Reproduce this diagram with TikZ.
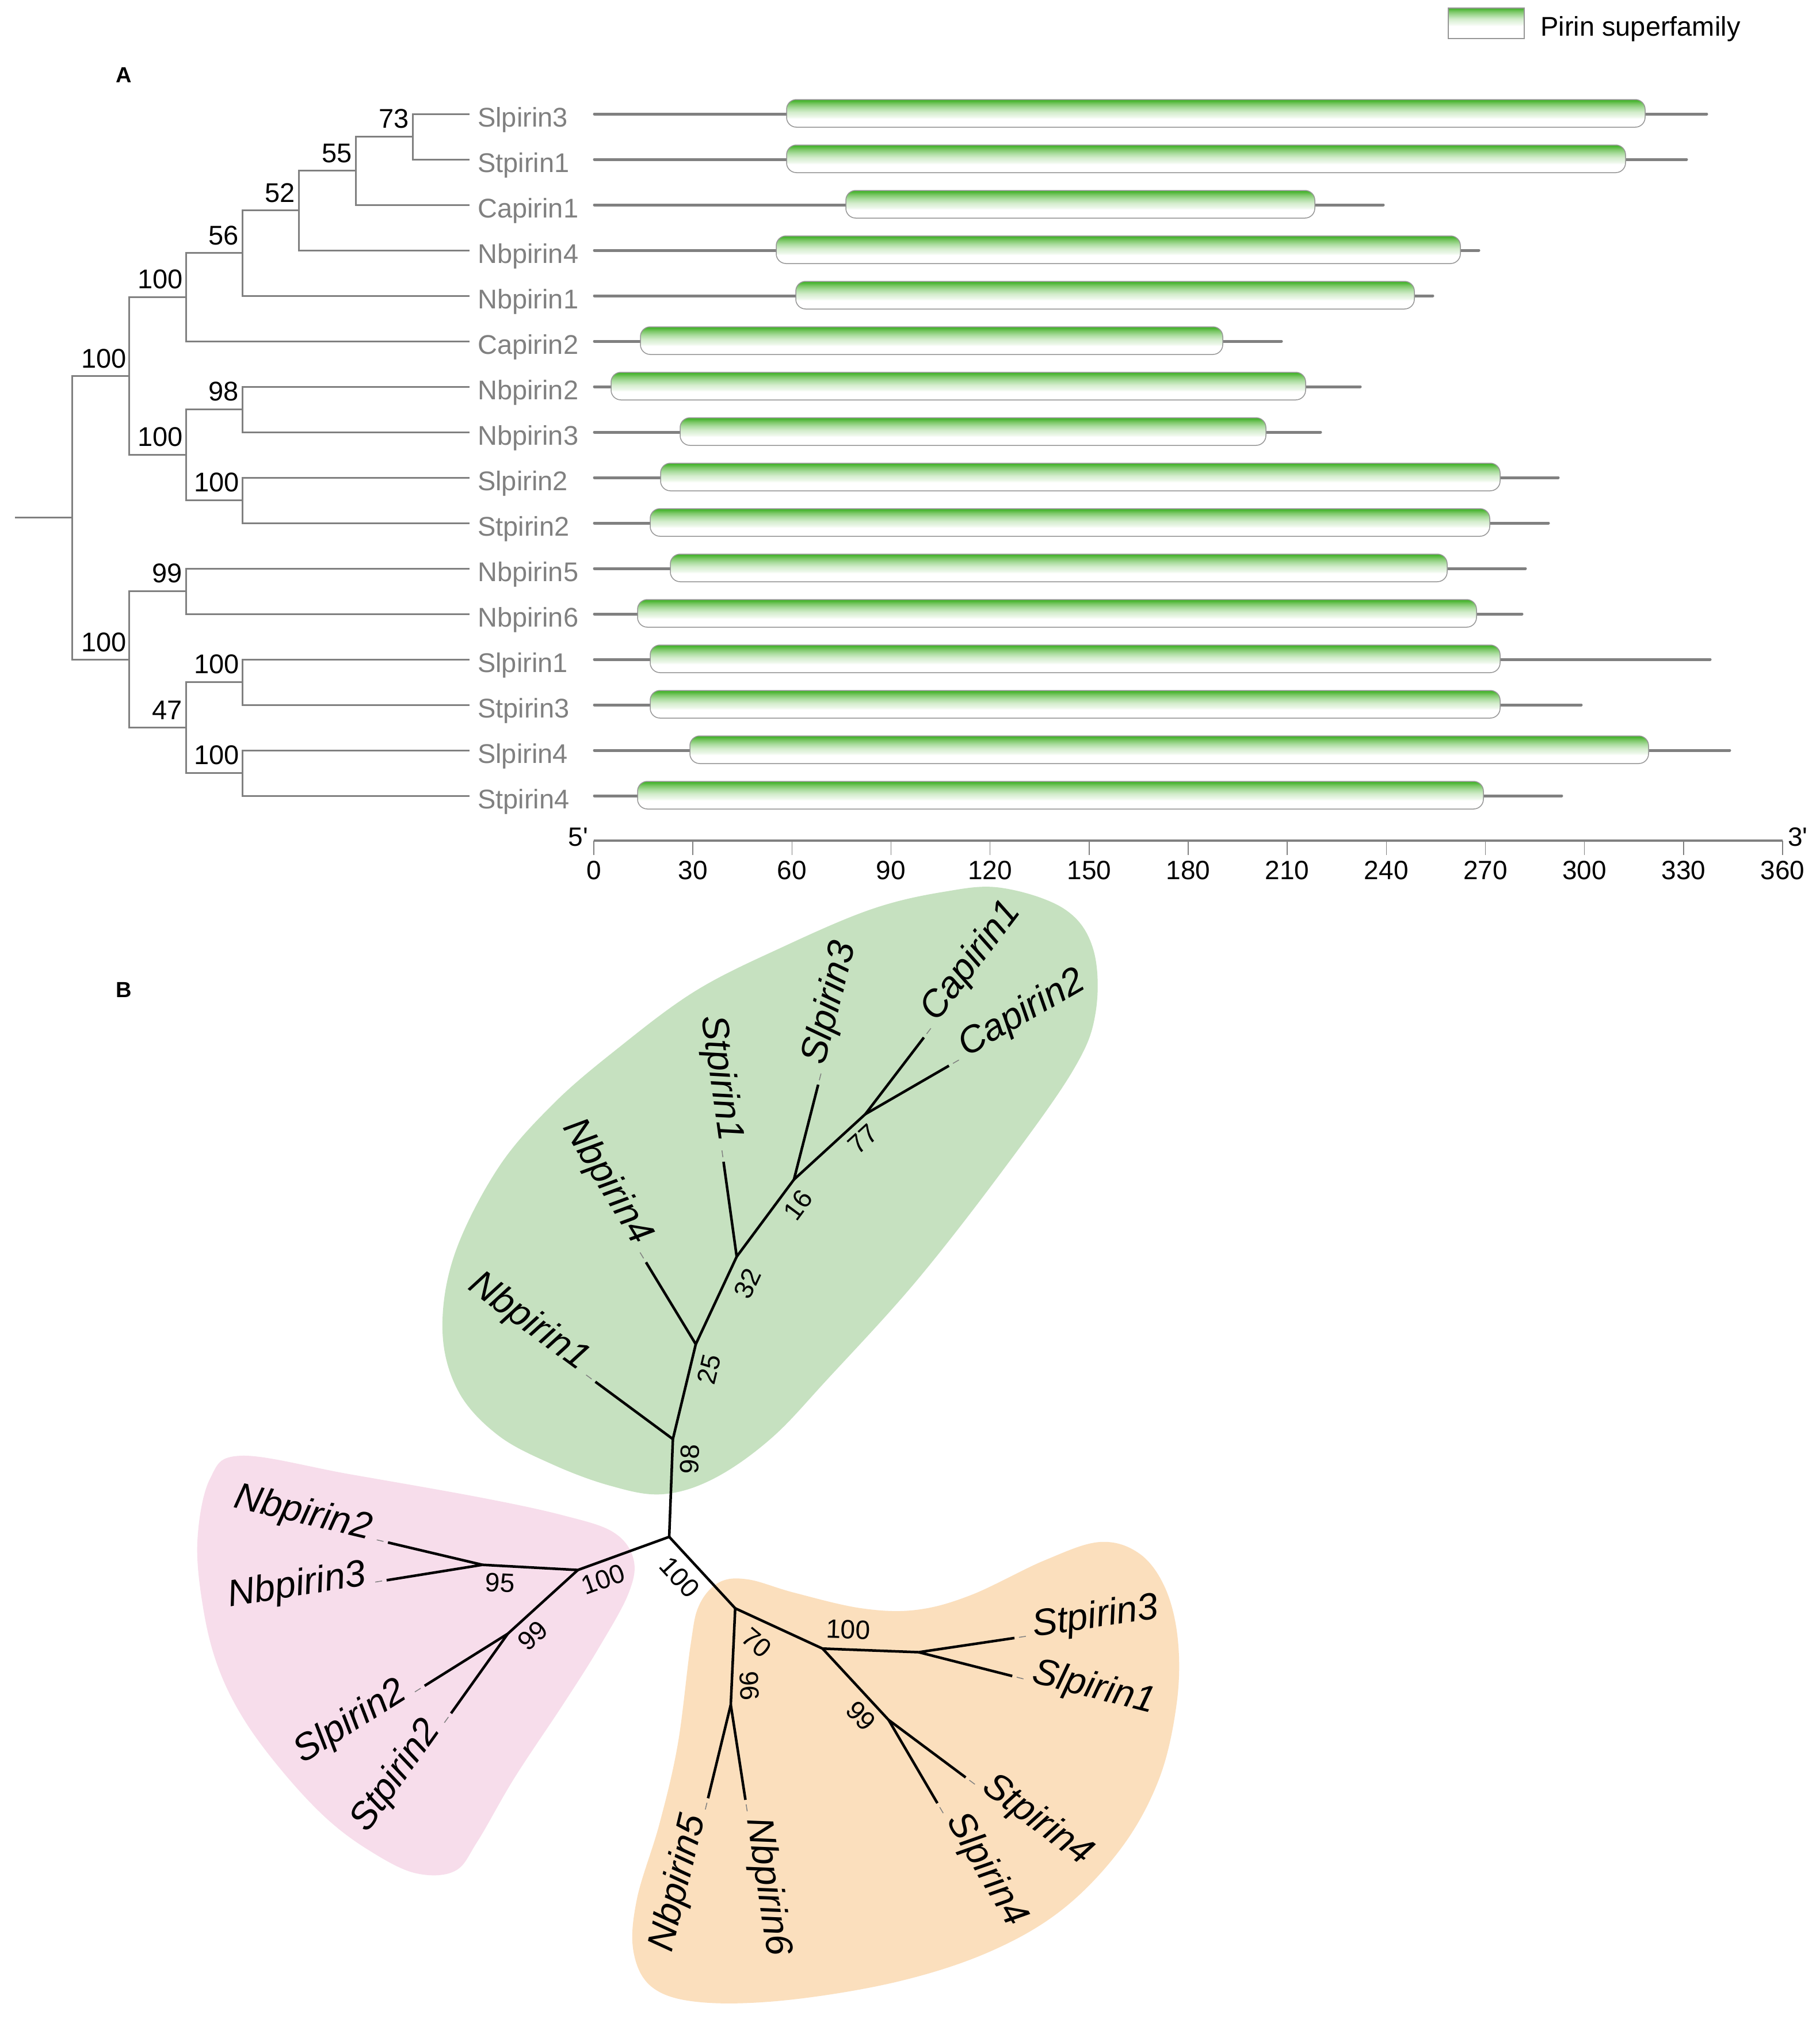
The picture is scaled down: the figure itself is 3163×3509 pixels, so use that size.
\documentclass[tikz,border=0pt]{standalone}
\usepackage{fontspec}
\setmainfont{Liberation Sans}
\usetikzlibrary{calc}
\definecolor{treegray}{RGB}{128,128,128}
\definecolor{bargray}{RGB}{150,150,150}
\definecolor{pirinA}{RGB}{72,180,48}
\definecolor{pirinB}{RGB}{125,200,105}
\definecolor{pirinC}{RGB}{170,220,158}
\definecolor{pirinD}{RGB}{212,237,205}
\definecolor{pirinE}{RGB}{236,247,233}
\definecolor{hullgreen}{RGB}{198,225,192}
\definecolor{hullpink}{RGB}{247,221,235}
\definecolor{hullorange}{RGB}{251,223,189}
\pgfdeclareverticalshading{pirinshade}{100bp}{color(0bp)=(white); color(40bp)=(white); color(44bp)=(pirinE); color(52bp)=(pirinD); color(60bp)=(pirinC); color(67bp)=(pirinB); color(73bp)=(pirinA); color(100bp)=(pirinA)}
\pgfdeclareverticalshading{legshade}{100bp}{color(0bp)=(white); color(45bp)=(white); color(50bp)=(pirinE); color(57bp)=(pirinD); color(63bp)=(pirinC); color(69bp)=(pirinB); color(74bp)=(pirinA); color(100bp)=(pirinA)}
% protein row: #1 y, #2 bar start, #3 bar end, #4 line end, #5 name
\newcommand\protrow[5]{%
  \coordinate (#5-0) at (1033,#1);
  \coordinate (#5-1) at (#4,#1);
  \draw[protline] (#5-0) -- (#5-1);
  \path[domainbar] (#2,{#1-25}) rectangle (#3,{#1+23});}
% leaf of the unrooted tree, right side: #1 parent, #2 tip, #3 text
\newcommand\leafR[3]{%
  \path let \p1=($(#2)-(#1)$), \n1={atan2(\y1,\x1)} in
    ($(#2)+(\n1:8pt)$) coordinate (#2-a)
    ($(#2)+(\n1:20pt)$) coordinate (#2-b)
    ($(#2)+(\n1:34pt)$) node[leafB, rotate=\n1, anchor=mid west] (#2-t) {#3};
  \draw[tipdash] (#2-a) -- (#2-b);}
% leaf, left side (text turned to stay readable)
\newcommand\leafL[3]{%
  \path let \p1=($(#2)-(#1)$), \n1={atan2(\y1,\x1)}, \n2={\n1+180} in
    ($(#2)+(\n1:8pt)$) coordinate (#2-a)
    ($(#2)+(\n1:20pt)$) coordinate (#2-b)
    ($(#2)+(\n1:34pt)$) node[leafB, rotate=\n2, anchor=mid east] (#2-t) {#3};
  \draw[tipdash] (#2-a) -- (#2-b);}
\begin{document}
\begin{tikzpicture}[x=1pt,y=-1pt,
  treeA/.style={draw=treegray, line width=3pt},
  bootA/.style={font=\fontsize{47}{56}\selectfont, inner sep=0pt, anchor=south east},
  leafA/.style={font=\fontsize{47}{56}\selectfont, text=treegray, inner sep=0pt, anchor=base west},
  protline/.style={draw=treegray, line width=5pt, line cap=round},
  domainbar/.style={draw=bargray, line width=1.5pt, rounded corners=17pt, shading=pirinshade},
  axisline/.style={draw=treegray, line width=4pt},
  axtick/.style={draw=treegray, line width=1.5pt},
  axisnum/.style={font=\fontsize{46}{52}\selectfont, inner sep=0pt},
  panel/.style={font=\bfseries\fontsize{38}{44}\selectfont, inner sep=0pt, anchor=base west},
  treeB/.style={draw=black, line width=4.5pt},
  tipdash/.style={draw=treegray, line width=1.5pt},
  leafB/.style={font=\itshape\fontsize{65}{72}\selectfont, inner sep=0pt},
  bootB/.style={font=\fontsize{46}{52}\selectfont, inner sep=0pt}
]
\useasboundingbox (0,0) rectangle (3163,3509);
\fill[white] (0,0) rectangle (3163,3509);

% ---------------- legend ----------------
\path[draw=bargray, line width=2pt, shading=legshade] (2517,14) rectangle (2649,67);
\node[font=\fontsize{47}{56}\selectfont, inner sep=0pt, anchor=base west] (legtext) at (2677,62) {Pirin superfamily};

% ---------------- panel letters ----------------
\node[panel] (labA) at (201,143) {A};
\node[panel] (labB) at (201,1733) {B};

% ---------------- panel A: tree ----------------
\foreach \i/\yy in {0/198,1/277,2/356,3/435,4/514,5/593,6/672,7/751,8/830,9/909,10/988,11/1067,12/1146,13/1225,14/1304,15/1383}
  \coordinate (t\i) at (816,\yy);
\coordinate (n73) at (717,237.5);
\coordinate (n55) at (618,296.75);
\coordinate (n52) at (519,365.9);
\coordinate (n56) at (421,439.9);
\coordinate (na100) at (323,516.5);
\coordinate (n98) at (421,711.5);
\coordinate (nc100) at (421,869.5);
\coordinate (nb100) at (323,790.5);
\coordinate (ntop) at (224,653.5);
\coordinate (n99) at (323,1027.5);
\coordinate (nd100) at (421,1185.5);
\coordinate (ne100) at (421,1343.5);
\coordinate (n47) at (323,1264.5);
\coordinate (nbot) at (224,1146);
\coordinate (rootA) at (125,899.75);
\coordinate (stubA) at (26,899.75);

\draw[treeA] (n73) |- (t0);  \draw[treeA] (n73) |- (t1);
\draw[treeA] (n55) |- (n73); \draw[treeA] (n55) |- (t2);
\draw[treeA] (n52) |- (n55); \draw[treeA] (n52) |- (t3);
\draw[treeA] (n56) |- (n52); \draw[treeA] (n56) |- (t4);
\draw[treeA] (na100) |- (n56); \draw[treeA] (na100) |- (t5);
\draw[treeA] (n98) |- (t6); \draw[treeA] (n98) |- (t7);
\draw[treeA] (nc100) |- (t8); \draw[treeA] (nc100) |- (t9);
\draw[treeA] (nb100) |- (n98); \draw[treeA] (nb100) |- (nc100);
\draw[treeA] (ntop) |- (na100); \draw[treeA] (ntop) |- (nb100);
\draw[treeA] (n99) |- (t10); \draw[treeA] (n99) |- (t11);
\draw[treeA] (nd100) |- (t12); \draw[treeA] (nd100) |- (t13);
\draw[treeA] (ne100) |- (t14); \draw[treeA] (ne100) |- (t15);
\draw[treeA] (n47) |- (nd100); \draw[treeA] (n47) |- (ne100);
\draw[treeA] (nbot) |- (n99); \draw[treeA] (nbot) |- (n47);
\draw[treeA] (rootA) |- (ntop); \draw[treeA] (rootA) |- (nbot);
\draw[treeA] (stubA) -- (rootA);

\node[bootA] (b73) at ($(n73)+(-6,-14)$) {73};
\node[bootA] (b55) at ($(n55)+(-6,-14)$) {55};
\node[bootA] (b52) at ($(n52)+(-6,-14)$) {52};
\node[bootA] (b56) at ($(n56)+(-6,-14)$) {56};
\node[bootA] (ba100) at ($(na100)+(-5,-14)$) {100};
\node[bootA] (b98) at ($(n98)+(-6,-14)$) {98};
\node[bootA] (bb100) at ($(nb100)+(-5,-14)$) {100};
\node[bootA] (bc100) at ($(nc100)+(-5,-14)$) {100};
\node[bootA] (btop) at ($(ntop)+(-4,-13)$) {100};
\node[bootA] (b99) at ($(n99)+(-6,-14)$) {99};
\node[bootA] (bd100) at ($(nd100)+(-5,-14)$) {100};
\node[bootA] (be100) at ($(ne100)+(-5,-14)$) {100};
\node[bootA] (b47) at ($(n47)+(-6,-14)$) {47};
\node[bootA] (bbot) at ($(nbot)+(-4,-13)$) {100};

\foreach \i/\yy/\nm in {0/198/Slpirin3,1/277/Stpirin1,2/356/Capirin1,3/435/Nbpirin4,4/514/Nbpirin1,5/593/Capirin2,6/672/Nbpirin2,7/751/Nbpirin3,8/830/Slpirin2,9/909/Stpirin2,10/988/Nbpirin5,11/1067/Nbpirin6,12/1146/Slpirin1,13/1225/Stpirin3,14/1304/Slpirin4,15/1383/Stpirin4}
  \node[leafA] (la\i) at (830,\yy+22) {\nm};

% ---------------- panel A: domains ----------------
\protrow{198}{1367}{2859}{2966}{pr0}
\protrow{277}{1367}{2825}{2931}{pr1}
\protrow{356}{1470}{2285}{2404}{pr2}
\protrow{435}{1349}{2538}{2570}{pr3}
\protrow{514}{1383}{2458}{2490}{pr4}
\protrow{593}{1113}{2125}{2227}{pr5}
\protrow{672}{1062}{2269}{2364}{pr6}
\protrow{751}{1182}{2200}{2295}{pr7}
\protrow{830}{1148}{2607}{2708}{pr8}
\protrow{909}{1130}{2589}{2691}{pr9}
\protrow{988}{1165}{2515}{2651}{pr10}
\protrow{1067}{1108}{2566}{2645}{pr11}
\protrow{1146}{1130}{2607}{2972}{pr12}
\protrow{1225}{1130}{2607}{2748}{pr13}
\protrow{1304}{1199}{2865}{3006}{pr14}
\protrow{1383}{1108}{2578}{2714}{pr15}

% axis
\coordinate (axL) at (1032,1461);
\coordinate (axR) at (3098,1461);
\draw[axisline] (axL) -- (axR);
\foreach \v in {0,30,...,360} {
  \draw[axtick] ({1032+\v*5.7389},1461) -- ({1032+\v*5.7389},1486);
  \node[axisnum, anchor=north] (ax\v) at ({1032+\v*5.7389},1496) {\v};
}
\node[axisnum, anchor=base east] (five) at (1022,1470) {5\textquotesingle};
\node[axisnum, anchor=base west] (three) at (3107,1470) {3\textquotesingle};

% ---------------- panel B: hulls ----------------
\fill[hullgreen] plot[smooth cycle, tension=0.6] coordinates {
 (1740,1543) (1850,1580) (1900,1650) (1904,1760) (1865,1860) (1745,2031) (1592,2227)
 (1439,2396) (1340,2500) (1240,2570) (1150,2597) (1060,2582) (960,2545) (865,2494)
 (796,2417) (769,2312) (790,2180) (865,2031) (960,1920) (1070,1825) (1209,1722)
 (1362,1645) (1515,1580) (1640,1550)};
\fill[hullpink] plot[smooth cycle, tension=0.6] coordinates {
 (420,2530) (607,2562) (837,2603) (980,2634) (1066,2663) (1101,2710) (1092,2770)
 (1040,2865) (980,2960) (894,3090) (830,3200) (790,3252) (720,3255) (640,3215)
 (567,3160) (492,3080) (425,2990) (380,2900) (354,2800) (343,2680) (365,2570)};
\fill[hullorange] plot[smooth cycle, tension=0.6] coordinates {
 (1250,2750) (1300,2745) (1380,2768) (1496,2795) (1592,2798) (1688,2772) (1815,2712)
 (1911,2680) (1980,2700) (2025,2760) (2047,2850) (2045,2960) (2015,3090) (1950,3210)
 (1847,3318) (1720,3392) (1560,3444) (1369,3476) (1220,3480) (1135,3455) (1101,3392)
 (1107,3300) (1146,3170) (1178,3031) (1200,2860) (1215,2790)};

% ---------------- panel B: tree ----------------
\coordinate (rootB) at (1163,2671);
\coordinate (N98) at (1169.4,2501.1);
\coordinate (Nb1) at (1034.7,2401.5);
\coordinate (N25) at (1209.2,2336.2);
\coordinate (Nb4) at (1122.7,2193.8);
\coordinate (N32) at (1280.3,2184);
\coordinate (St1) at (1257.4,2019.1);
\coordinate (N16) at (1379.8,2050);
\coordinate (Sl3) at (1421.9,1885.1);
\coordinate (N77) at (1503.8,1936.4);
\coordinate (Ca1) at (1605.6,1803.1);
\coordinate (Ca2) at (1649.2,1852.2);
\coordinate (Np100) at (1004.3,2728.6);
\coordinate (N95) at (838.4,2719.6);
\coordinate (Nb2) at (674.2,2680.8);
\coordinate (Nb3) at (671.9,2746.4);
\coordinate (N99p) at (882.6,2839.3);
\coordinate (Sl2) at (737.9,2929.9);
\coordinate (St2) at (783.9,2977.7);
\coordinate (N70) at (1277.7,2795.2);
\coordinate (N96) at (1270,2962.8);
\coordinate (Nb5) at (1230.5,3125.3);
\coordinate (Nb6) at (1295.5,3128.1);
\coordinate (No100) at (1429.5,2865.2);
\coordinate (Nsub) at (1596.6,2871.5);
\coordinate (St3) at (1763,2846.8);
\coordinate (Sl1) at (1759.2,2912.9);
\coordinate (N99o) at (1544.3,2989.2);
\coordinate (St4) at (1678.2,3089.1);
\coordinate (Sl4) at (1629.1,3133.9);

\draw[treeB] (rootB) -- (N98);
\draw[treeB] (N98) -- (Nb1);
\draw[treeB] (N98) -- (N25);
\draw[treeB] (N25) -- (Nb4);
\draw[treeB] (N25) -- (N32);
\draw[treeB] (N32) -- (St1);
\draw[treeB] (N32) -- (N16);
\draw[treeB] (N16) -- (Sl3);
\draw[treeB] (N16) -- (N77);
\draw[treeB] (N77) -- (Ca1);
\draw[treeB] (N77) -- (Ca2);
\draw[treeB] (rootB) -- (Np100);
\draw[treeB] (Np100) -- (N95);
\draw[treeB] (N95) -- (Nb2);
\draw[treeB] (N95) -- (Nb3);
\draw[treeB] (Np100) -- (N99p);
\draw[treeB] (N99p) -- (Sl2);
\draw[treeB] (N99p) -- (St2);
\draw[treeB] (rootB) -- (N70);
\draw[treeB] (N70) -- (N96);
\draw[treeB] (N96) -- (Nb5);
\draw[treeB] (N96) -- (Nb6);
\draw[treeB] (N70) -- (No100);
\draw[treeB] (No100) -- (Nsub);
\draw[treeB] (Nsub) -- (St3);
\draw[treeB] (Nsub) -- (Sl1);
\draw[treeB] (No100) -- (N99o);
\draw[treeB] (N99o) -- (St4);
\draw[treeB] (N99o) -- (Sl4);

\leafL{N98}{Nb1}{Nbpirin1}
\leafL{N25}{Nb4}{Nbpirin4}
\leafL{N32}{St1}{Stpirin1}
\leafR{N16}{Sl3}{Slpirin3}
\leafR{N77}{Ca1}{Capirin1}
\leafR{N77}{Ca2}{Capirin2}
\leafL{N95}{Nb2}{Nbpirin2}
\leafL{N95}{Nb3}{Nbpirin3}
\leafL{N99p}{Sl2}{Slpirin2}
\leafL{N99p}{St2}{Stpirin2}
\leafL{N96}{Nb5}{Nbpirin5}
\leafR{N96}{Nb6}{Nbpirin6}
\leafR{Nsub}{St3}{Stpirin3}
\leafR{Nsub}{Sl1}{Slpirin1}
\leafR{N99o}{St4}{Stpirin4}
\leafR{N99o}{Sl4}{Slpirin4}

\node[bootB, rotate=87.5] (bB98) at (1199,2536) {98};
\node[bootB, rotate=76.4] (bB25) at (1232,2380) {25};
\node[bootB, rotate=65] (bB32) at (1299,2231) {32};
\node[bootB, rotate=53.4] (bB16) at (1387,2094) {16};
\node[bootB, rotate=42.5] (bB77) at (1500,1980) {77};
\node[bootB, rotate=19.9] (bBp100) at (1048,2745) {100};
\node[bootB, rotate=-3] (bB95) at (869,2751) {95};
\node[bootB, rotate=42.3] (bBp99) at (926,2843) {99};
\node[bootB, rotate=-47.3] (bBo100) at (1181,2741) {100};
\node[bootB, rotate=-40] (bB70) at (1315,2855) {70};
\node[bootB, rotate=-87.4] (bB96) at (1302,2930) {96};
\node[bootB, rotate=-2] (bBi100) at (1474,2832) {100};
\node[bootB, rotate=-47.2] (bBo99) at (1496,2982) {99};
\end{tikzpicture}
\end{document}
